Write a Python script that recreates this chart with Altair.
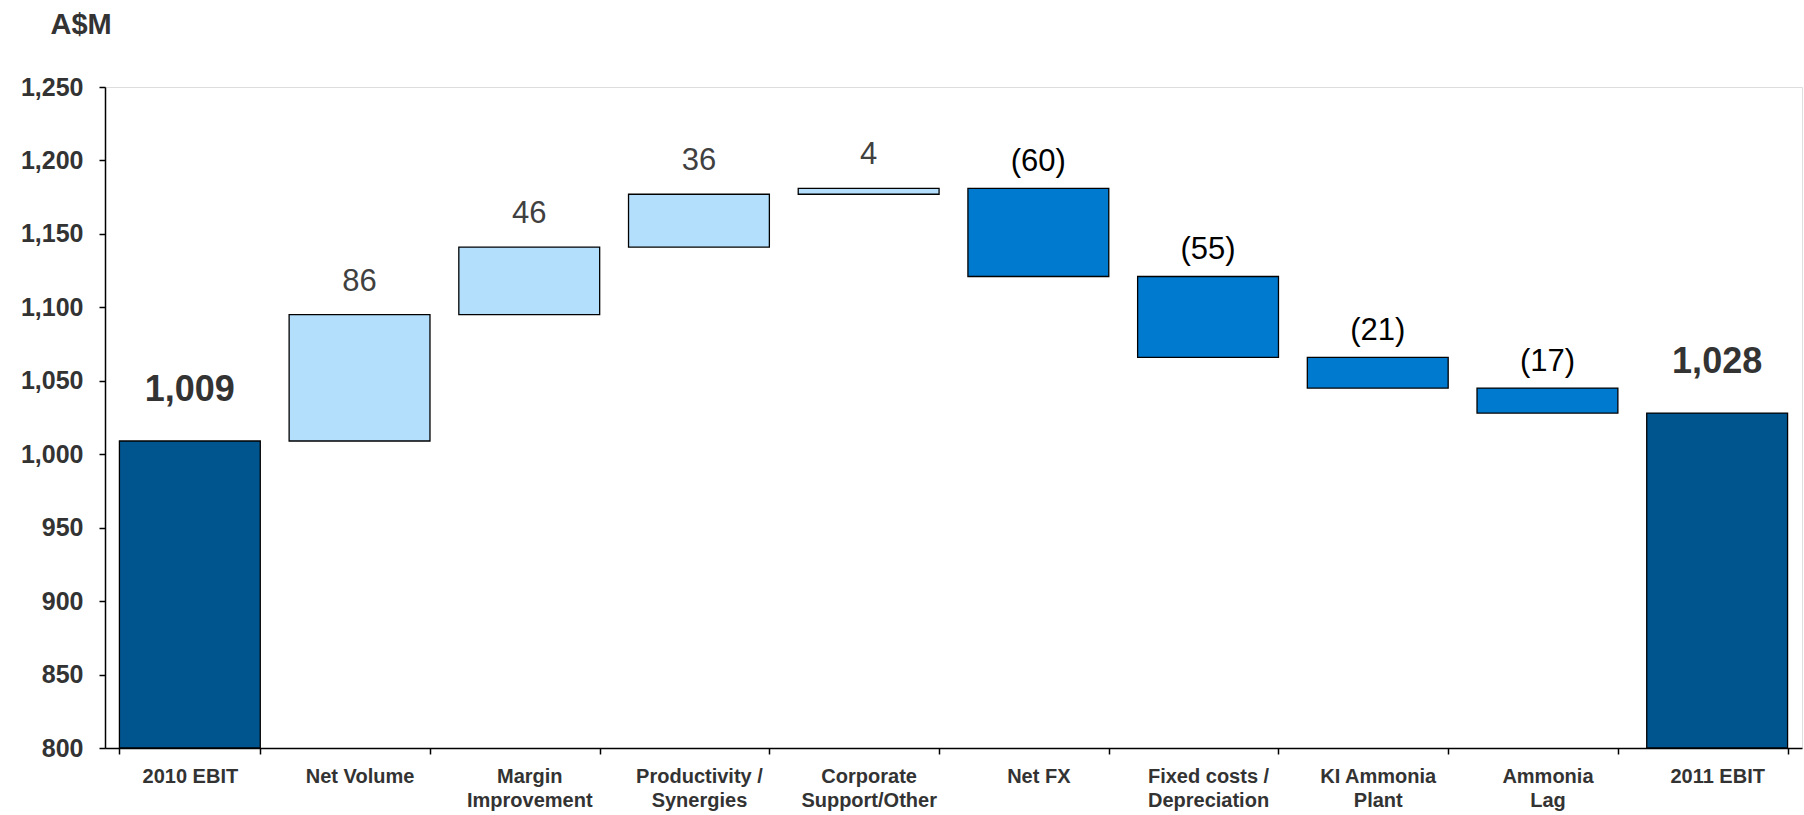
import altair as alt
import pandas as pd

# EBIT bridge, A$M
categories = [
    "2010 EBIT", "Net Volume", "Margin\nImprovement", "Productivity /\nSynergies",
    "Corporate\nSupport/Other", "Net FX", "Fixed costs /\nDepreciation",
    "KI Ammonia\nPlant", "Ammonia\nLag", "2011 EBIT",
]
opening_ebit = 1009
movements = [86, 46, 36, 4, -60, -55, -21, -17]
closing_ebit = 1028

# Build floating bar extents for the waterfall
rows = [{"cat": categories[0], "kind": "total", "lo": 800, "hi": opening_ebit,
         "label": f"{opening_ebit:,}"}]
running = opening_ebit
for cat, d in zip(categories[1:-1], movements):
    new = running + d
    rows.append({
        "cat": cat,
        "kind": "up" if d > 0 else "down",
        "lo": min(running, new),
        "hi": max(running, new),
        "label": str(d) if d > 0 else f"({-d})",
    })
    running = new
rows.append({"cat": categories[-1], "kind": "total", "lo": 800, "hi": closing_ebit,
             "label": f"{closing_ebit:,}"})
df = pd.DataFrame(rows)

FONT = "Liberation Sans"

x_enc = alt.X(
    "cat:N", sort=categories, title=None,
    scale=alt.Scale(paddingInner=0.17, paddingOuter=0.085),
    axis=alt.Axis(
        labelAngle=0, labelExpr="split(datum.label, '\\n')",
        labelFont=FONT, labelFontSize=20, labelFontWeight="bold", labelColor="#333333",
        labelLineHeight=24, labelPadding=12, labelBaseline="top",
        tickBand="extent", tickSize=6, tickColor="black", tickWidth=1.5,
        domainColor="black", domainWidth=1.5,
    ),
)
y_scale = alt.Scale(domain=[800, 1250], nice=False, zero=False)
y_axis = alt.Axis(
    values=list(range(800, 1251, 50)), format=",d", grid=False,
    labelFont=FONT, labelFontSize=25, labelFontWeight="bold", labelColor="#333333",
    labelPadding=16, tickSize=6, tickColor="black", tickWidth=1.5,
    domainColor="black", domainWidth=1.5,
    title="A$M", titleAngle=0, titleAlign="left", titleBaseline="middle",
    titleX=-55, titleY=-63, titleFont=FONT, titleFontSize=29,
    titleFontWeight="bold", titleColor="#333333",
)

base = alt.Chart(df)

bars = base.mark_bar(stroke="black", strokeWidth=1.3).encode(
    x=x_enc,
    y=alt.Y("lo:Q", scale=y_scale, axis=y_axis),
    y2="hi:Q",
    color=alt.Color(
        "kind:N",
        scale=alt.Scale(domain=["total", "up", "down"],
                        range=["#00558F", "#B3DFFD", "#007ACF"]),
        legend=None,
    ),
)

total_text = base.transform_filter(alt.datum.kind == "total").mark_text(
    font=FONT, fontSize=36, fontWeight="bold", color="#333333",
    baseline="alphabetic", dy=-40,
).encode(x=alt.X("cat:N", sort=categories), y="hi:Q", text="label:N")

up_text = base.transform_filter(alt.datum.kind == "up").mark_text(
    font=FONT, fontSize=31, color="#404040", baseline="alphabetic", dy=-24,
).encode(x=alt.X("cat:N", sort=categories), y="hi:Q", text="label:N")

down_text = base.transform_filter(alt.datum.kind == "down").mark_text(
    font=FONT, fontSize=31, color="#000000", baseline="alphabetic", dy=-17,
).encode(x=alt.X("cat:N", sort=categories), y="hi:Q", text="label:N")

chart = (
    alt.layer(bars, total_text, up_text, down_text)
    .properties(
        width=1697, height=661,
        autosize=alt.AutoSizeParams(type="none"),
        padding={"left": 105, "top": 87, "right": 2, "bottom": 67},
    )
    .configure_view(stroke=None)
    .configure(background="white")
)

chart.save("out.html", embed_options={"renderer": "svg", "actions": False})
